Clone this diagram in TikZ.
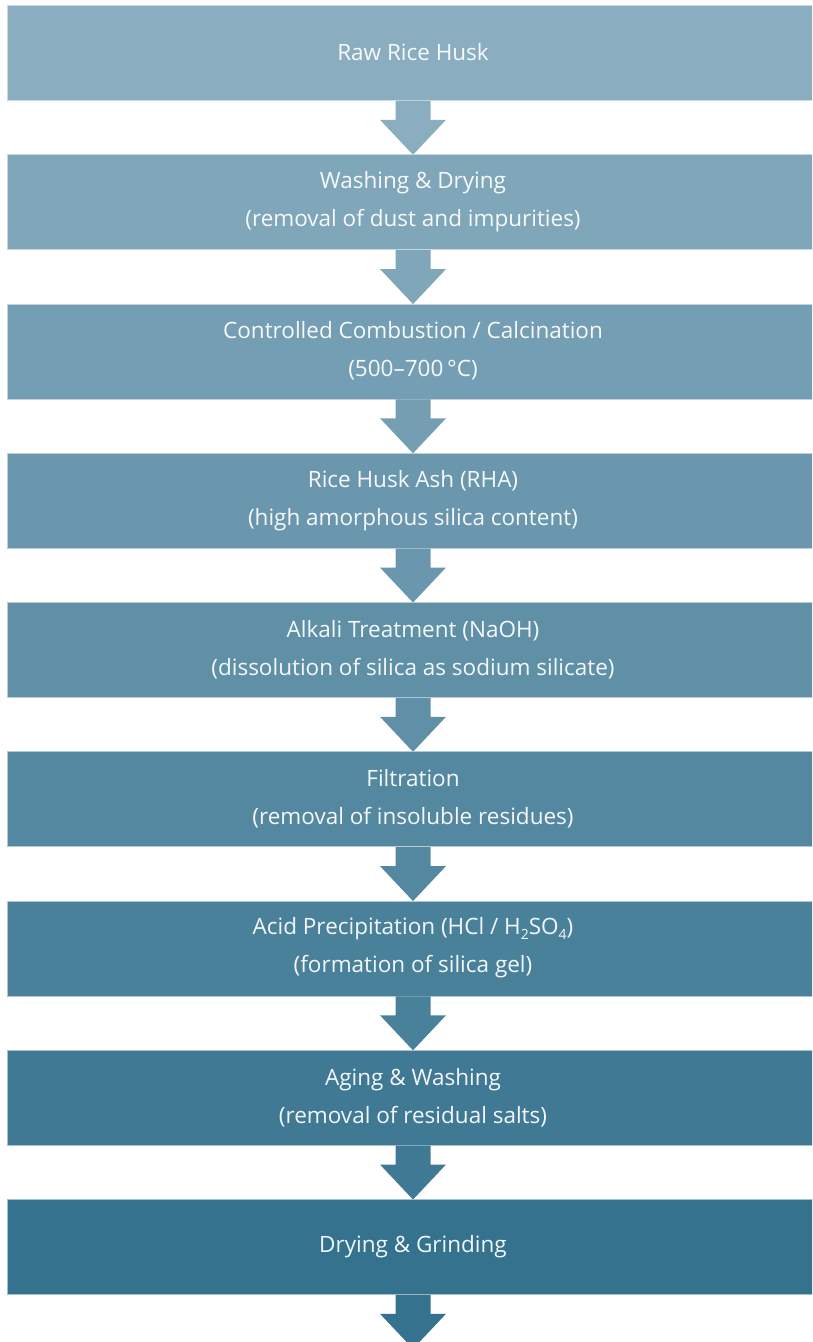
\documentclass[tikz,border=0pt]{standalone}
\usepackage{fontspec}
\setmainfont{Open Sans}
\usetikzlibrary{calc}
\definecolor{cA}{RGB}{138,173,191}
\definecolor{cZ}{RGB}{52,114,142}
\newcommand{\sbs}[1]{\raisebox{-0.35ex}{\fontsize{14}{14}\selectfont #1}}
\tikzset{
  stepbox/.style={rectangle, inner sep=0pt, minimum width=840pt, minimum height=95pt,
    text=white!94!cA, align=center, font=\fontsize{22.5}{38}\selectfont, anchor=north west},
}
\begin{document}
\begin{tikzpicture}[x=1pt,y=-1pt]
\useasboundingbox (0,0) rectangle (812,1342);
\clip (0,0) rectangle (812,1342);
\foreach \i/\txt in {0/{Raw Rice Husk},
  1/{Washing \& Drying\\(removal of dust and impurities)},
  2/{Controlled Combustion / Calcination\\(500–700\,°C)},
  3/{Rice Husk Ash (RHA)\\(high amorphous silica content)},
  4/{Alkali Treatment (NaOH)\\(dissolution of silica as sodium silicate)},
  5/{Filtration\\(removal of insoluble residues)},
  6/{Acid Precipitation (HCl / H\sbs{2}SO\sbs{4})\\(formation of silica gel)},
  7/{Aging \& Washing\\(removal of residual salts)},
  8/{Drying \& Grinding}} {
  \pgfmathsetmacro{\pct}{100-\i*12.5}
  \colorlet{cur}{cA!\pct!cZ}
  \node[stepbox, fill=cur, draw=white!55!cur, line width=0.8pt] (b\i) at (7,{5+149.25*\i}) {};
  \node[align=center, text=white!94!cur, font=\fontsize{22.5}{38}\selectfont, inner sep=0pt] (t\i) at (413,{52.5+149.25*\i}) {\txt};
  \fill[cur] ($(b\i.south west)+(406-17.5,0)$) -- ($(b\i.south west)+(406+17.5,0)$) -- ($(b\i.south west)+(406+17.5,19)$)
     -- ($(b\i.south west)+(406+33,19)$) -- ($(b\i.south west)+(406,54)$) -- ($(b\i.south west)+(406-33,19)$)
     -- ($(b\i.south west)+(406-17.5,19)$) -- cycle;
}
\end{tikzpicture}
\end{document}
